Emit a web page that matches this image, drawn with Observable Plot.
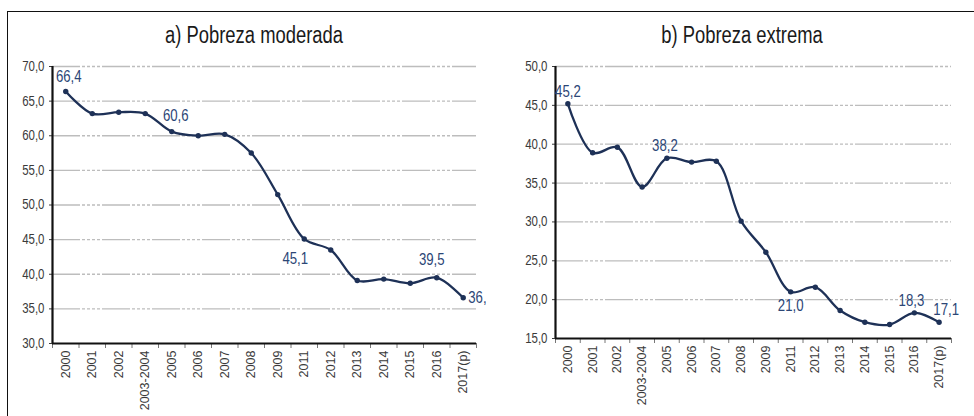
<!DOCTYPE html>
<html><head><meta charset="utf-8">
<script src="https://cdn.jsdelivr.net/npm/d3@7"></script>
<script src="https://cdn.jsdelivr.net/npm/@observablehq/plot@0.6"></script>
<style>
body{margin:0;background:#fff;}
#wrap{position:relative;width:974px;height:416px;overflow:hidden;background:#fff;font-family:"Liberation Sans",Arial,sans-serif;}
#frame{position:absolute;left:7px;top:11px;width:990px;height:430px;border-top:1.5px solid #111;border-left:1.5px solid #111;}
.title{position:absolute;top:22px;font-size:23px;line-height:26px;color:#1a1a1a;text-align:center;white-space:nowrap;transform:scaleX(0.8);}
#pa{position:absolute;left:0;top:0;width:486px;height:416px;overflow:hidden;}
#pb{position:absolute;left:483px;top:0;width:491px;height:416px;}
</style></head><body>
<div id="wrap"><div id="frame"></div>
<div id="pa"></div><div id="pb"></div>
<div class="title" style="left:134px;width:240px">a) Pobreza moderada</div>
<div class="title" style="left:622px;width:240px">b) Pobreza extrema</div>
</div>
<script>
const categories = ["2000","2001","2002","2003-2004","2005","2006","2007","2008","2009","2011","2012","2013","2014","2015","2016","2017(p)"];
const moderada = [66.4,63.2,63.4,63.2,60.6,60.0,60.2,57.5,51.5,45.1,43.5,39.1,39.3,38.7,39.5,36.6];
const extrema  = [45.2,38.9,39.6,34.5,38.2,37.7,37.8,30.1,26.1,21.0,21.6,18.6,17.1,16.8,18.3,17.1];
const ticksModerada = [30,35,40,45,50,55,60,65,70];
const ticksExtrema = [15,20,25,30,35,40,45,50];
const labeledModerada = ["2000","2005","2011","2016","2017(p)"];
const labeledExtrema = ["2000","2005","2011","2016","2017(p)"];

const fmt = d => d.toFixed(1).replace(".", ",");
const NAVY = "#1e3157", LBL = "#2c4676";
const SANS = "'Liberation Sans',Arial,sans-serif";

// squeeze text horizontally around its anchor (imitates a narrow typeface)
function narrow(sel, k) {
  sel.each(function() {
    const t = d3.select(this);
    const tr = t.attr("transform") || "";
    t.attr("transform", `${tr} scale(${k},1)`);
  });
}

function panel({values, ticks, labeled, offsets, width, height, mt, mb, ml, mr}) {
  const data = categories.map((c, i) => ({i, c, v: values[i]}));
  const lo = ticks[0], hi = ticks[ticks.length - 1];
  const ppu = (height - mt - mb) / (hi - lo);
  const bounds = d3.range(categories.length + 1).map(k => k - 0.5);
  const lab = data.filter(d => labeled.includes(d.c));
  const textMarks = lab.map(d => {
    const o = offsets[d.c];
    return Plot.text([d], {x: "i", y: "v", text: d => fmt(d.v), dx: o[0], dy: o[1],
      textAnchor: o[2] || "middle", fill: LBL, fontSize: 16.5, className: "dlabel"});
  });
  const svg = Plot.plot({
    width, height, marginTop: mt, marginBottom: mb, marginLeft: ml, marginRight: mr,
    style: {fontFamily: SANS, fontSize: "14px", color: "#3a3a3a", background: "transparent", overflow: "visible"},
    x: {domain: [-0.5, categories.length - 0.5], ticks: d3.range(categories.length),
        tickFormat: i => categories[i], tickRotate: -90, tickSize: 0, tickPadding: 7, label: null},
    y: {domain: [lo, hi], ticks, tickFormat: fmt, tickSize: 3, tickPadding: 5, label: null},
    marks: [
      Plot.ruleY(ticks.slice(1), {stroke: "#bdbdbd", strokeWidth: 1.3, strokeDasharray: "28,2,3,2,3,2,3,2,3,2"}),
      Plot.ruleX(bounds, {y1: lo, y2: lo - 5 / ppu, stroke: "#777", strokeWidth: 1, clip: false}),
      Plot.ruleY([lo], {stroke: "#111", strokeWidth: 2.2}),
      Plot.ruleX([-0.5], {stroke: "#111", strokeWidth: 2.2}),
      Plot.line(data, {x: "i", y: "v", stroke: NAVY, strokeWidth: 2.3, curve: "catmull-rom"}),
      Plot.dot(data, {x: "i", y: "v", r: 2.7, fill: NAVY, stroke: "none"}),
      ...textMarks
    ]
  });
  const s = d3.select(svg);
  s.selectAll('g[aria-label^="x-axis"] text').style("font-size", "12.5px");
  narrow(s.selectAll('g[aria-label^="y-axis"] text'), 0.82);
  narrow(s.selectAll('.dlabel text'), 0.8);
  return svg;
}

document.getElementById("pa").appendChild(panel({
  values: moderada, ticks: ticksModerada, labeled: labeledModerada,
  offsets: {"2000": [3, -15], "2005": [4, -16], "2011": [-9, 20], "2016": [-5, -18], "2017(p)": [5, 0, "start"]},
  width: 486, height: 416, mt: 66, mb: 73, ml: 52, mr: 10
}));
document.getElementById("pb").appendChild(panel({
  values: extrema, ticks: ticksExtrema, labeled: labeledExtrema,
  offsets: {"2000": [0, -12], "2005": [-2, -12], "2011": [0, 14], "2016": [-3, -12], "2017(p)": [7, -12]},
  width: 491, height: 416, mt: 66, mb: 78, ml: 72, mr: 23
}));
</script>
</body></html>
